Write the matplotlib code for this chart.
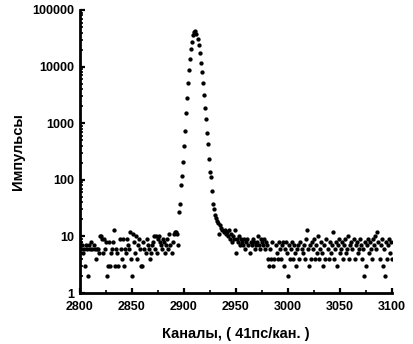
import matplotlib
matplotlib.use("Agg")
import matplotlib.pyplot as plt
from matplotlib.ticker import LogLocator, FixedLocator, NullFormatter

# ---- data ----
left_start = 2800
left_counts = [8, 6, 7, 5, 6, 3, 7, 6, 2, 7, 6, 8, 6, 7, 6, 4, 6, 6, 5, 10,
               10, 9, 5, 9, 6, 8, 2, 3, 8, 3, 5, 6, 8, 13, 3, 6, 5, 3, 9, 6,
               4, 9, 3, 6, 5, 9, 7, 6, 12, 4, 2, 11, 8, 5, 10, 4, 7, 9, 6, 3,
               3, 8, 6, 5, 9, 7, 6, 4, 5, 7, 8, 10, 6, 10, 5, 9, 10, 8, 7, 6,
               9, 8, 5, 7, 9, 6, 11, 7, 5, 8, 11, 12, 12, 11, 7]

peak_start = 2895
peak_counts = [27, 37, 81, 117, 204, 390, 740, 1490, 2760, 5100, 8600, 13500,
               20400, 27500, 36000, 41500, 43000, 38000, 30700, 24000, 17100,
               11700, 7900, 5100, 3100, 1880, 1170, 670, 435, 233, 135, 113,
               63, 38, 31, 24, 21, 19, 17, 11, 16]

right_start = 2936
right_counts = [14, 13, 12, 13, 11, 12, 10, 13, 9, 11, 8, 10, 9, 13, 5, 9, 8,
                10, 7, 9, 8, 7, 9, 6, 8, 9, 7, 5, 8, 7, 9, 8, 6, 7, 8, 10, 7,
                6, 9, 8, 7, 9, 6, 8, 7, 4, 3, 6, 4, 8, 3, 4, 7, 5, 4, 8, 6, 4,
                7, 8, 3, 6, 8, 5, 2, 7, 4, 6, 8, 4, 7, 5, 3, 6, 7, 4, 8, 6, 5,
                7, 4, 9, 13, 6, 3, 7, 4, 8, 6, 9, 4, 7, 5, 10, 4, 6, 8, 5, 3,
                7, 4, 9, 6, 4, 8, 5, 7, 12, 4, 6, 8, 3, 7, 9, 5, 6, 8, 4, 7, 9,
                5, 6, 10, 4, 7, 8, 6, 9, 4, 7, 8, 5, 6, 9, 7, 4, 6, 2, 8, 3, 7,
                9, 5, 8, 6, 4, 9, 7, 10, 6, 12, 8, 4, 7, 9, 3, 6, 2, 8, 4, 7, 9,
                5, 8, 4]

x_ticks = [2800, 2850, 2900, 2950, 3000, 3050, 3100]
y_ticks = [1, 10, 100, 1000, 10000, 100000]
y_tick_labels = ["1", "10", "100", "1000", "10000", "100000"]
x_label = "Каналы, ( 41пс/кан. )"
y_label = "Импульсы"

channels = (list(range(left_start, left_start + len(left_counts)))
            + list(range(peak_start, peak_start + len(peak_counts)))
            + list(range(right_start, right_start + len(right_counts))))
counts = left_counts + peak_counts + right_counts

# ---- figure ----
plt.rcParams['font.family'] = ['Liberation Sans', 'DejaVu Sans']
fig = plt.figure(figsize=(4.13, 3.44), dpi=100)
ax = fig.add_axes([80 / 413, 51 / 344, 312 / 413, 283 / 344])

ax.plot(channels, counts, linestyle='none', marker='o', markersize=3.1,
        color='black', markeredgewidth=0)

ax.set_yscale('log')
ax.set_xlim(2800, 3100)
ax.set_ylim(1, 100000)

ax.set_xticks(x_ticks)
ax.set_xticklabels([str(t) for t in x_ticks], fontweight='bold', fontsize=9)
ax.xaxis.set_minor_locator(FixedLocator(list(range(2825, 3100, 50))))
ax.set_yticks(y_ticks)
ax.set_yticklabels(y_tick_labels, fontweight='bold', fontsize=9)
ax.yaxis.set_minor_locator(LogLocator(base=10, subs=range(2, 10)))
ax.yaxis.set_minor_formatter(NullFormatter())

ax.tick_params(axis='x', which='major', pad=6)
ax.tick_params(axis='y', which='major', pad=4)
ax.tick_params(axis='both', which='major', direction='in', length=3.5,
               width=1.6)
ax.tick_params(axis='both', which='minor', direction='in', length=2.5,
               width=1.2)

for s in ['top', 'right']:
    ax.spines[s].set_visible(False)
for s in ['left', 'bottom']:
    ax.spines[s].set_linewidth(2.0)

ax.set_xlabel(x_label, fontweight='bold', fontsize=10.5, labelpad=10)
ax.set_ylabel(y_label, fontweight='bold', fontsize=10.5, labelpad=5)

fig.savefig("out.png", dpi=100, facecolor='white')
